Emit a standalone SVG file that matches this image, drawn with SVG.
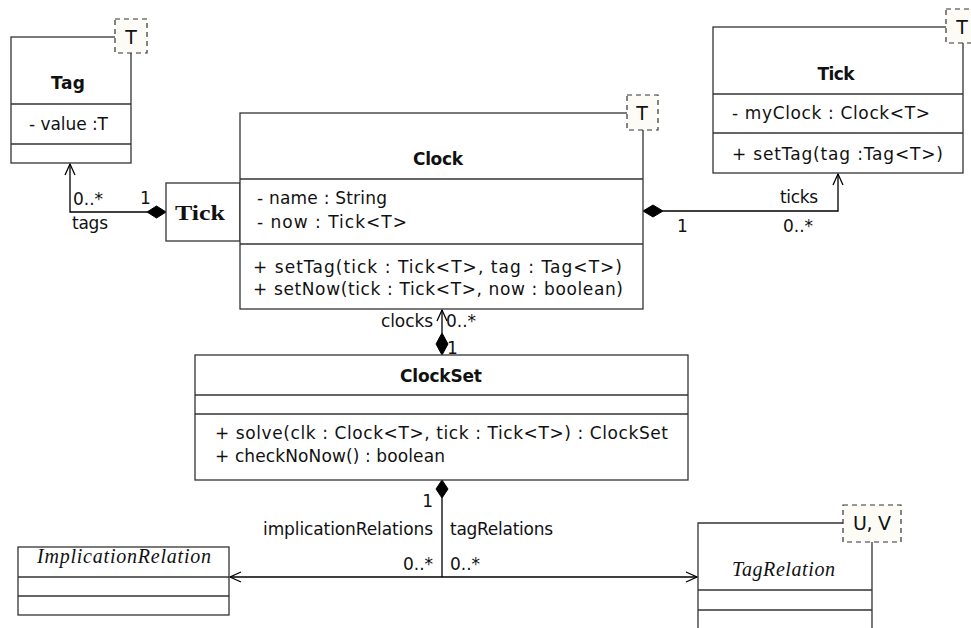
<svg xmlns="http://www.w3.org/2000/svg" width="971" height="628" viewBox="0 0 971 628">
<defs>
<style>
.box{fill:#fff;stroke:#333;stroke-width:1.3}
.sep{stroke:#333;stroke-width:1.3;fill:none}
.tpl{fill:#fdfbf6;stroke:#333;stroke-width:1.2;stroke-dasharray:5,4}
.t{font-family:"DejaVu Sans","Liberation Sans",sans-serif;font-size:17px;fill:#111}
.tt{font-size:19px}
.b{font-weight:bold}
.c{text-anchor:middle}
.e{text-anchor:end}
.s{font-family:"Liberation Serif","Times New Roman",serif;font-size:20px;fill:#111}
.i{font-style:italic}
.ln{stroke:#000;stroke-width:1.3;fill:none}
.dia{fill:#000;stroke:#000;stroke-width:1}
</style>
</defs>
<rect width="971" height="628" fill="#fff"/>

<g id="connectors">
  <polyline class="ln" points="147,212 70,212 70,164"/>
  <polyline class="ln" points="65,175 70,164 75,175"/>
  <polygon class="dia" points="166,212 156.5,206 147,212 156.5,218"/>
  <polyline class="ln" points="663,211 838,211 838,174"/>
  <polyline class="ln" points="833,185 838,174 843,185"/>
  <polygon class="dia" points="643,211 653,205 663,211 653,217"/>
  <line class="ln" x1="442" y1="333" x2="442" y2="310"/>
  <polyline class="ln" points="437,321 442,310 447,321"/>
  <polygon class="dia" points="442,355 436,344 442,333 448,344"/>
  <polygon class="dia" points="442,480 436,489 442,498 448,489"/>
  <line class="ln" x1="442" y1="498" x2="442" y2="577"/>
  <line class="ln" x1="230" y1="577" x2="697" y2="577"/>
  <polyline class="ln" points="241,572 230,577 241,582"/>
  <polyline class="ln" points="686,572 697,577 686,582"/>
</g>
<g id="labels">
  <text class="t" x="73" y="205" textLength="30">0..*</text>
  <text class="t" x="140" y="204">1</text>
  <text class="t" x="72" y="229" textLength="36">tags</text>
  <text class="t" x="780" y="203" textLength="38">ticks</text>
  <text class="t" x="677" y="232">1</text>
  <text class="t" x="783" y="232" textLength="30">0..*</text>
  <text class="t e" x="433" y="327" textLength="52">clocks</text>
  <text class="t" x="446" y="327" textLength="30">0..*</text>
  <text class="t" x="447" y="354">1</text>
  <text class="t e" x="433" y="507">1</text>
  <text class="t e" x="433" y="535" textLength="170">implicationRelations</text>
  <text class="t" x="450" y="535" textLength="103">tagRelations</text>
  <text class="t e" x="433" y="570" textLength="30">0..*</text>
  <text class="t" x="450" y="570" textLength="30">0..*</text>
</g>

<g id="Tag">
  <rect class="box" x="11" y="37" width="120" height="126"/>
  <line class="sep" x1="11" y1="104" x2="131" y2="104"/>
  <line class="sep" x1="11" y1="144" x2="131" y2="144"/>
  <rect class="tpl" x="115" y="19" width="32" height="34"/>
  <text class="t tt c" x="131" y="44">T</text>
  <text class="t b c" x="68" y="89" textLength="34">Tag</text>
  <text class="t" x="29" y="130" textLength="79">- value :T</text>
</g>

<g id="TickSmall">
  <rect class="box" x="166" y="183" width="74" height="58"/>
  <text class="s b" x="175" y="220" style="font-size:21px" textLength="50" lengthAdjust="spacingAndGlyphs">Tick</text>
</g>

<g id="Clock">
  <rect class="box" x="240" y="113" width="403" height="196"/>
  <line class="sep" x1="240" y1="179" x2="643" y2="179"/>
  <line class="sep" x1="240" y1="244" x2="643" y2="244"/>
  <rect class="tpl" x="627" y="95" width="31" height="35"/>
  <text class="t tt c" x="642" y="120">T</text>
  <text class="t b c" x="438" y="165" textLength="50">Clock</text>
  <text class="t" x="257" y="204" textLength="130">- name : String</text>
  <text class="t" x="257" y="228" textLength="150">- now : Tick&lt;T&gt;</text>
  <text class="t" x="253" y="273" textLength="369">+ setTag(tick : Tick&lt;T&gt;, tag : Tag&lt;T&gt;)</text>
  <text class="t" x="253" y="295" textLength="370">+ setNow(tick : Tick&lt;T&gt;, now : boolean)</text>
</g>

<g id="Tick">
  <rect class="box" x="713" y="27" width="250" height="146"/>
  <line class="sep" x1="713" y1="94" x2="963" y2="94"/>
  <line class="sep" x1="713" y1="133" x2="963" y2="133"/>
  <rect class="tpl" x="946" y="9" width="32" height="34"/>
  <text class="t tt c" x="962" y="34">T</text>
  <text class="t b c" x="836" y="80" textLength="37">Tick</text>
  <text class="t" x="732" y="119" textLength="198">- myClock : Clock&lt;T&gt;</text>
  <text class="t" x="732" y="160" textLength="211">+ setTag(tag :Tag&lt;T&gt;)</text>
</g>

<g id="ClockSet">
  <rect class="box" x="195" y="355" width="493" height="125"/>
  <line class="sep" x1="195" y1="395" x2="688" y2="395"/>
  <line class="sep" x1="195" y1="414" x2="688" y2="414"/>
  <text class="t b c" x="441" y="382" textLength="82">ClockSet</text>
  <text class="t" x="215" y="439" textLength="453">+ solve(clk : Clock&lt;T&gt;, tick : Tick&lt;T&gt;) : ClockSet</text>
  <text class="t" x="215" y="462" textLength="230">+ checkNoNow() : boolean</text>
</g>

<g id="ImplicationRelation">
  <rect class="box" x="18" y="547" width="211" height="68"/>
  <line class="sep" x1="18" y1="577" x2="229" y2="577"/>
  <line class="sep" x1="18" y1="596" x2="229" y2="596"/>
  <text class="s i" x="37" y="563" textLength="174">ImplicationRelation</text>
</g>

<g id="TagRelation">
  <path class="sep" d="M698,640 V523 H872 V640"/>
  <line class="sep" x1="698" y1="590" x2="872" y2="590"/>
  <line class="sep" x1="698" y1="610" x2="872" y2="610"/>
  <rect class="tpl" x="843" y="505" width="58" height="37"/>
  <text class="t tt c" x="872" y="530" textLength="38">U, V</text>
  <text class="s i" x="732" y="576" textLength="103">TagRelation</text>
</g>
</svg>
